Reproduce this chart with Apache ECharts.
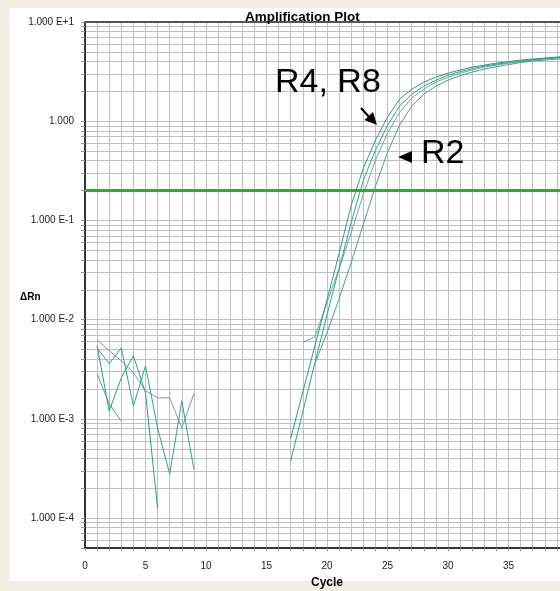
<!DOCTYPE html>
<html>
<head>
<meta charset="utf-8">
<script src="https://cdn.jsdelivr.net/npm/echarts@6/dist/echarts.min.js"></script>
<style>
  html, body { margin: 0; padding: 0; background: #f0eee2; }
  #chart { width: 560px; height: 591px; }
</style>
</head>
<body>
<div id="chart"></div>
<script>
// ---- data ----
const cycles = [1,2,3,4,5,6,7,8,9,10,11,12,13,14,15,16,17,18,19,20,21,22,23,24,25,26,27,28,29,30,31,32,33,34,35,36,37,38,39,40];

const sampleR4 = [0.00546,0.00120,0.00260,0.00433,0.00183,0.000126,
  null,null,null,null,null,null,null,null,null,null,
  0.00064,0.00187,0.00546,0.0159,0.0464,0.142,0.335,0.643,1.10,1.67,2.10,2.48,2.78,3.05,3.28,3.51,3.68,3.85,3.99,4.13,4.23,4.33,4.43,4.54];

const sampleR8 = [0.00521,0.00360,0.00521,0.00135,0.00343,0.00081,0.000278,0.00152,0.00031,
  null,null,null,null,null,null,null,
  0.000377,0.00118,0.00368,0.01124,0.0327,0.0955,0.254,0.509,0.912,1.42,1.87,2.26,2.59,2.91,3.16,3.39,3.59,3.76,3.90,4.04,4.18,4.28,4.38,4.48];

const sampleR6 = [0.00628,0.00486,0.00385,0.00292,0.00192,0.00163,0.00163,0.00081,0.00179,
  null,null,null,null,null,null,null,null,
  0.00586,0.00673,0.01486,0.0327,0.0757,0.183,0.404,0.757,1.23,1.71,2.10,2.48,2.78,3.05,3.28,3.51,3.68,3.85,3.99,4.13,4.23,4.33,4.43];

const sampleR2 = [0.00285,0.00142,0.00095,
  null,null,null,null,null,null,null,null,null,null,null,null,null,null,null,
  0.00360,0.00739,0.0163,0.0377,0.0912,0.220,0.486,0.912,1.42,1.87,2.26,2.59,2.88,3.13,3.35,3.55,3.72,3.90,4.04,4.13,4.23,4.33];

const threshold = 0.2;

const yMajorTicks = [0.0001, 0.001, 0.01, 0.1, 1, 10];
const yMinorMultipliers = [1,2,3,4,5,6,7,8,9];
const yMin = 0.00005, yMax = 10;
const xMin = 0, xMax = 40;

// ---- build ----
const yAllTicks = [];
[-5,-4,-3,-2,-1,0,1].forEach(function (e) {
  yMinorMultipliers.forEach(function (m) {
    const v = parseFloat((m * Math.pow(10, e)).toPrecision(6));
    if (v >= yMin - 1e-12 && v <= yMax + 1e-12) yAllTicks.push(v);
  });
});

function pairs(vals) {
  return cycles.map(function (c, i) { return [c, vals[i]]; });
}

function yLabel(v) {
  const l = Math.log10(v);
  const e = Math.round(l);
  if (Math.abs(l - e) > 1e-6) return '';
  if (e === 0) return '1.000';
  return '1.000 E' + (e > 0 ? '+' : '') + e;
}

const FONT = 'Liberation Sans, Arial, sans-serif';

function lineSeries(name, vals, color) {
  return {
    name: name, type: 'line', data: pairs(vals), showSymbol: false, symbol: 'none',
    connectNulls: false, smooth: false, silent: true,
    lineStyle: { color: color, width: 1 }, z: 3
  };
}

const chart = echarts.init(document.getElementById('chart'), null, { renderer: 'canvas' });

chart.setOption({
  animation: false,
  backgroundColor: '#f0eee2',
  title: {
    text: 'Amplification Plot', left: 240, top: 5,
    textStyle: { fontFamily: FONT, fontSize: 13.5, fontWeight: 'bold', color: '#000' }
  },
  grid: { left: 85, top: 22, width: 484, height: 526, containLabel: false, outerBoundsMode: 'none' },
  xAxis: [{
    type: 'value', min: xMin, max: xMax, interval: 1,
    name: 'Cycle', nameLocation: 'middle', nameGap: 29,
    nameTextStyle: { fontFamily: FONT, fontSize: 12, fontWeight: 'bold', color: '#000' },
    axisLine: { show: true, onZero: false, lineStyle: { color: '#333', width: 2 } },
    axisTick: { show: true, length: 3, lineStyle: { color: '#999' } },
    axisLabel: {
      margin: 13, fontFamily: FONT, fontSize: 10, color: '#222',
      formatter: function (v) { return (v % 5 === 0) ? String(v) : ''; }
    },
    splitLine: { show: true, lineStyle: { color: '#c0c0c0', width: 1 } }
  }, {
    type: 'value', position: 'top', min: xMin, max: xMax,
    axisLine: { show: true, onZero: false, lineStyle: { color: '#555', width: 2 } },
    axisTick: { show: false }, axisLabel: { show: false }, splitLine: { show: false }
  }],
  yAxis: {
    type: 'log', logBase: 10, min: yMin, max: yMax,
    axisLine: { show: true, onZero: false, lineStyle: { color: '#333', width: 2 } },
    axisTick: { show: true, length: 4, customValues: yAllTicks, lineStyle: { color: '#999' } },
    axisLabel: {
      margin: 11, fontFamily: FONT, fontSize: 10, color: '#222',
      customValues: yMajorTicks, formatter: yLabel
    },
    splitLine: { show: true, lineStyle: { color: '#c0c0c0', width: 1 } },
    minorTick: { show: false }, minorSplitLine: { show: false }
  },
  series: [
    lineSeries('R6', sampleR6, '#74a39a'),
    lineSeries('R2', sampleR2, '#4a9e8e'),
    lineSeries('R8', sampleR8, '#35a08c'),
    lineSeries('R4', sampleR4, '#2a9a86'),
    {
      name: 'Threshold', type: 'line', data: [[xMin, threshold], [xMax, threshold]],
      showSymbol: false, symbol: 'none', silent: true, z: 4,
      lineStyle: { color: '#1fb51f', width: 3 }
    }
  ],
  graphic: [
    { type: 'rect', z: -100, silent: true, shape: { x: 9, y: 8, width: 560, height: 573 }, style: { fill: '#ffffff' } },
    { type: 'text', z: 10, silent: true, left: 20, top: 292, style: { text: 'ΔRn', font: 'bold 10px ' + FONT, fill: '#000' } },
    { type: 'text', z: 10, silent: true, x: 275, y: 100, style: { text: 'R4, R8', font: '34px ' + FONT, fill: '#000', textVerticalAlign: 'bottom' } },
    { type: 'text', z: 10, silent: true, x: 421, y: 171, style: { text: 'R2', font: '34px ' + FONT, fill: '#000', textVerticalAlign: 'bottom' } },
    { type: 'line', z: 10, silent: true, shape: { x1: 361, y1: 108, x2: 370, y2: 118 }, style: { stroke: '#000', lineWidth: 2 } },
    { type: 'polygon', z: 10, silent: true, shape: { points: [[377, 125], [364.5, 120], [373, 112]] }, style: { fill: '#000' } },
    { type: 'polygon', z: 10, silent: true, shape: { points: [[398, 157], [412, 151], [412, 163]] }, style: { fill: '#000' } }
  ]
});
</script>
</body>
</html>
